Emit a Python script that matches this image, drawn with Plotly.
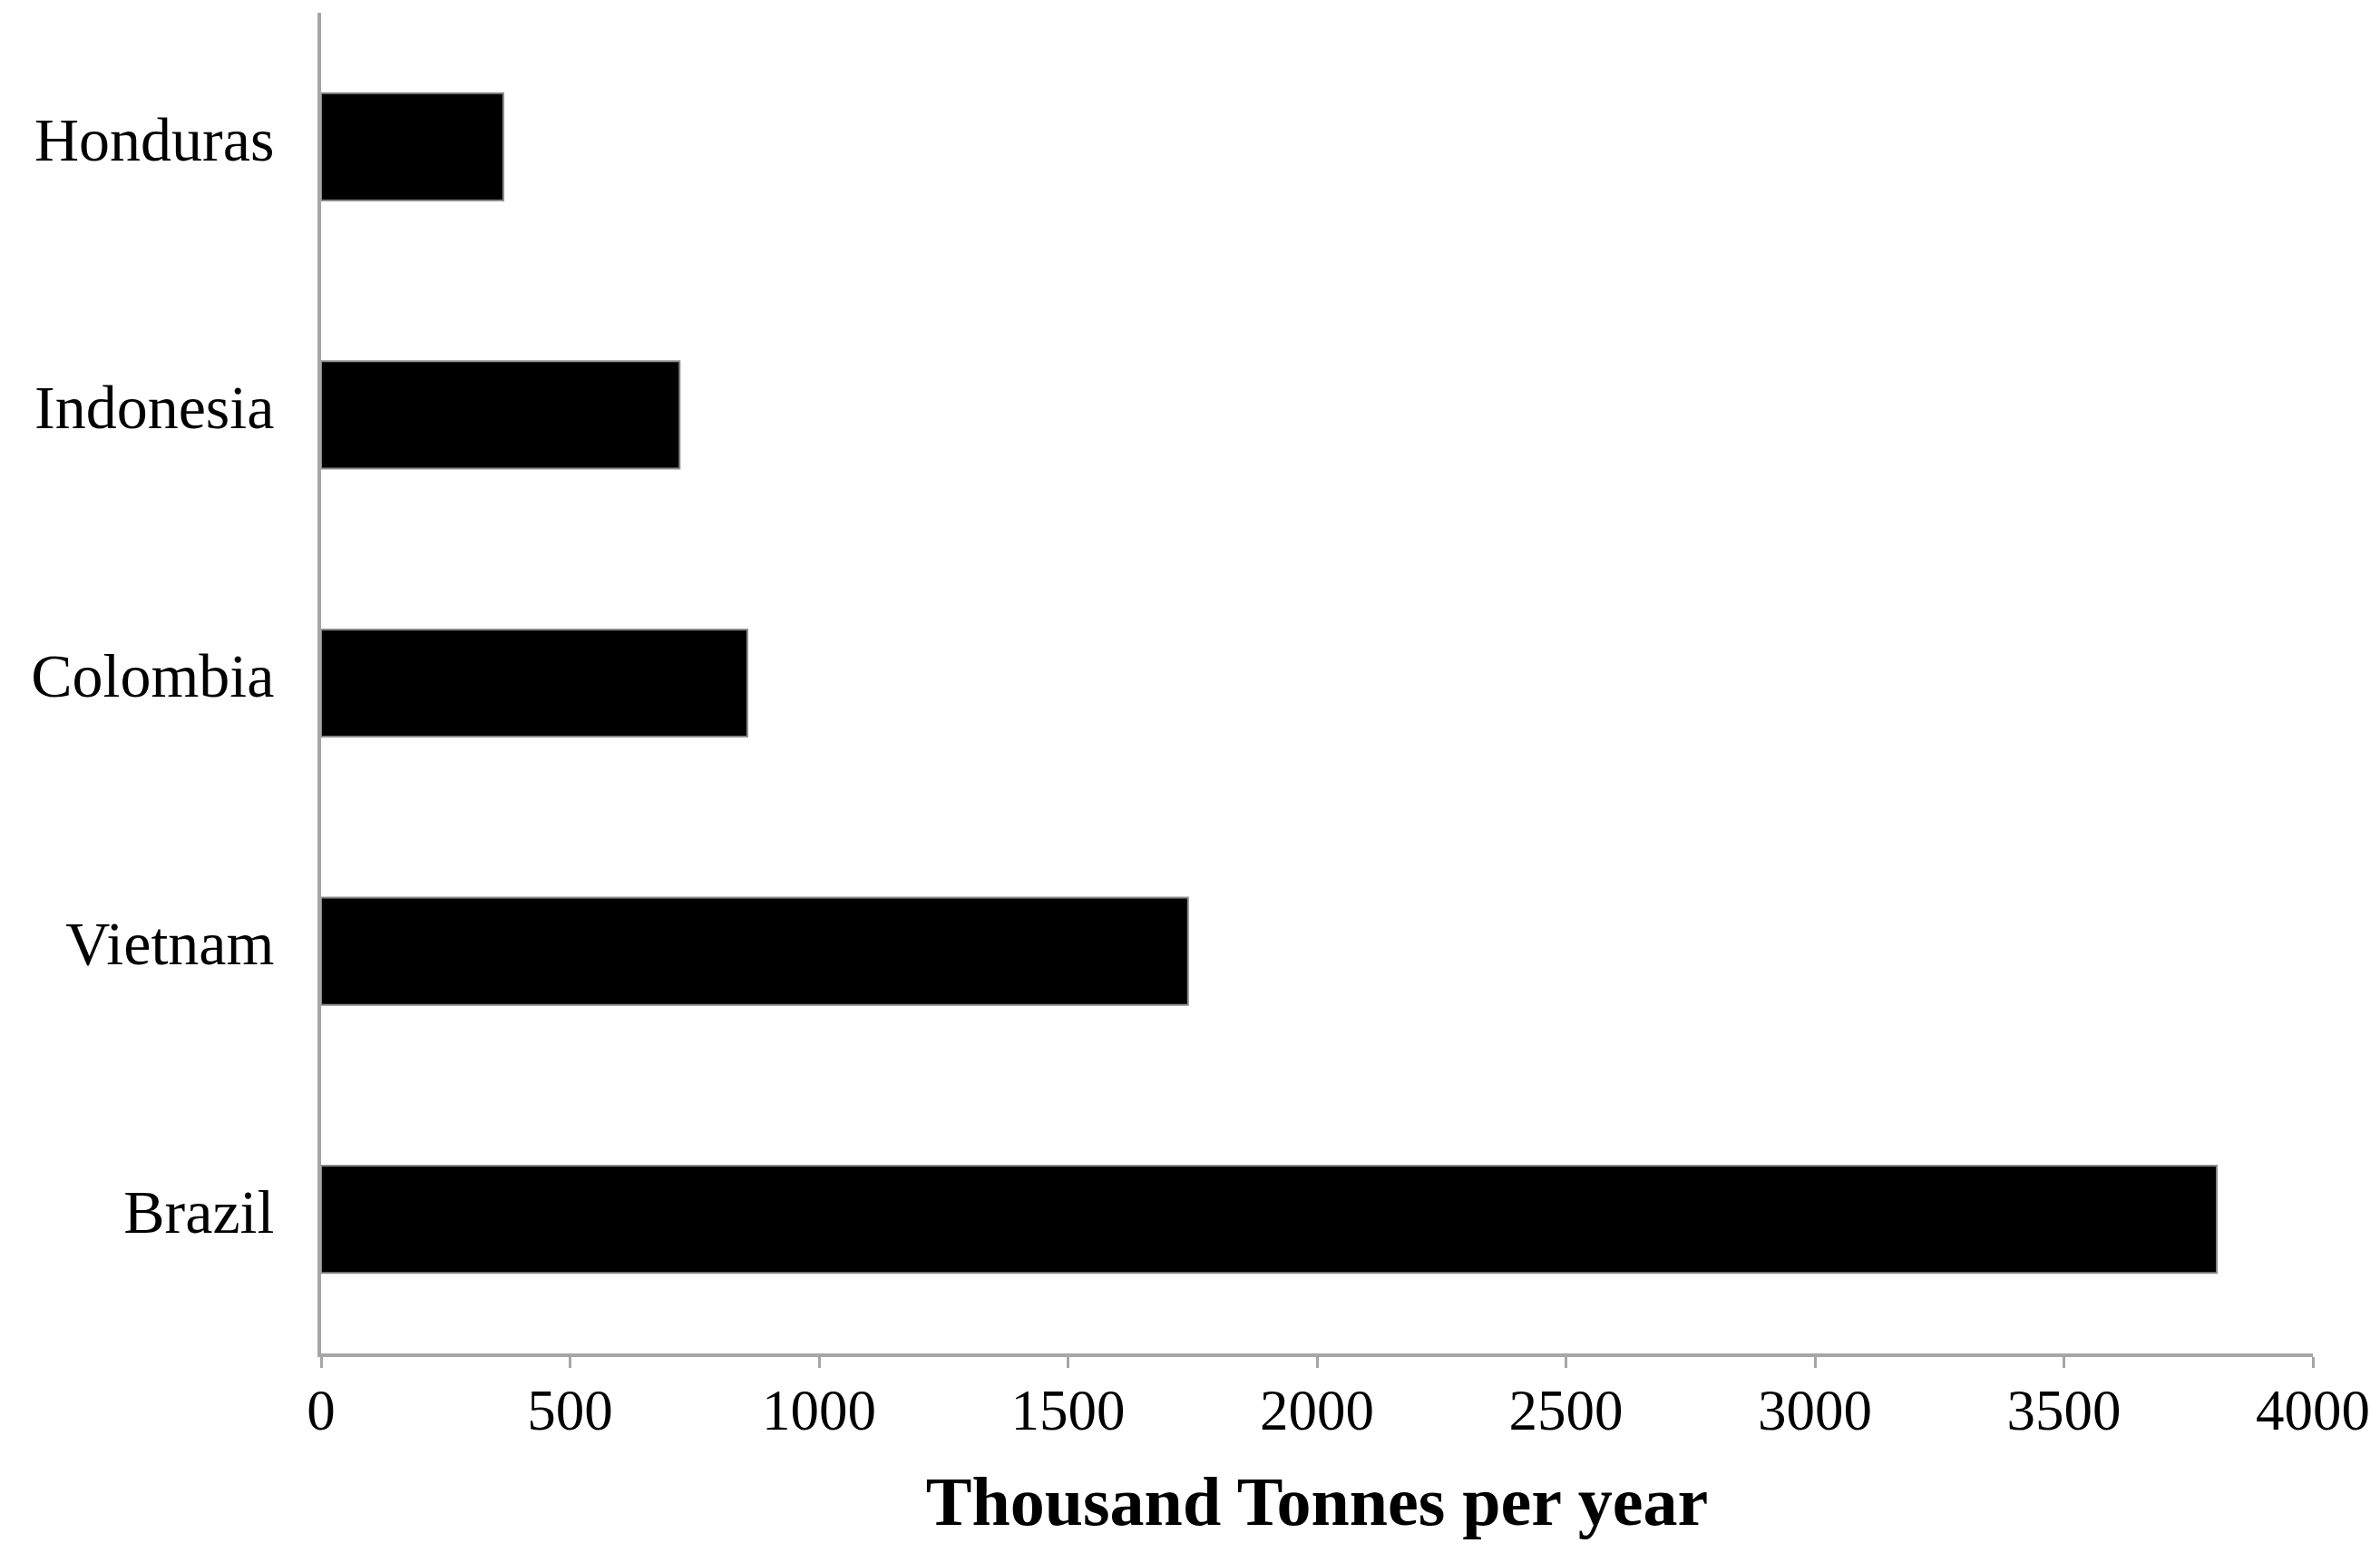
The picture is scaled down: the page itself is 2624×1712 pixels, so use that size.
import plotly.graph_objects as go

countries = ["Brazil", "Vietnam", "Colombia", "Indonesia", "Honduras"]
production = [3807, 1741, 856, 720, 366]
x_ticks = [0, 500, 1000, 1500, 2000, 2500, 3000, 3500, 4000]
x_title = "Thousand Tonnes per year"

fig = go.Figure()
fig.add_trace(go.Bar(
    y=countries, x=production, orientation="h",
    marker=dict(color="black", line=dict(color="#8a8a8a", width=2)),
    width=0.4,
))

font_family = "Liberation Serif, DejaVu Serif, serif"
fig.update_layout(
    width=2624, height=1712,
    margin=dict(l=346, r=82, t=6, b=228),
    plot_bgcolor="white", paper_bgcolor="white",
    showlegend=False,
    font=dict(family=font_family, color="black"),
    bargap=0.6,
)
fig.update_xaxes(
    range=[0, 4000], tickvals=x_ticks, ticktext=[str(v) for v in x_ticks],
    showline=True, linecolor="#a6a6a6", linewidth=4,
    ticks="outside", ticklen=12, tickwidth=3, tickcolor="#a6a6a6",
    ticklabelstandoff=-8,
    showgrid=False, zeroline=False,
    tickfont=dict(size=63, family=font_family, color="black"),
    title=dict(text="<b>" + x_title + "</b>", font=dict(size=76, family=font_family, color="black"), standoff=40),
)
fig.update_yaxes(
    categoryorder="array", categoryarray=countries,
    range=[-0.5, 4.5],
    showline=True, linecolor="#a6a6a6", linewidth=4,
    ticks="", showgrid=False, zeroline=False,
    ticklabelstandoff=34,
    ticklabelshift=-9,
    tickfont=dict(size=68, family=font_family, color="black"),
)

fig.write_html("out.html")
